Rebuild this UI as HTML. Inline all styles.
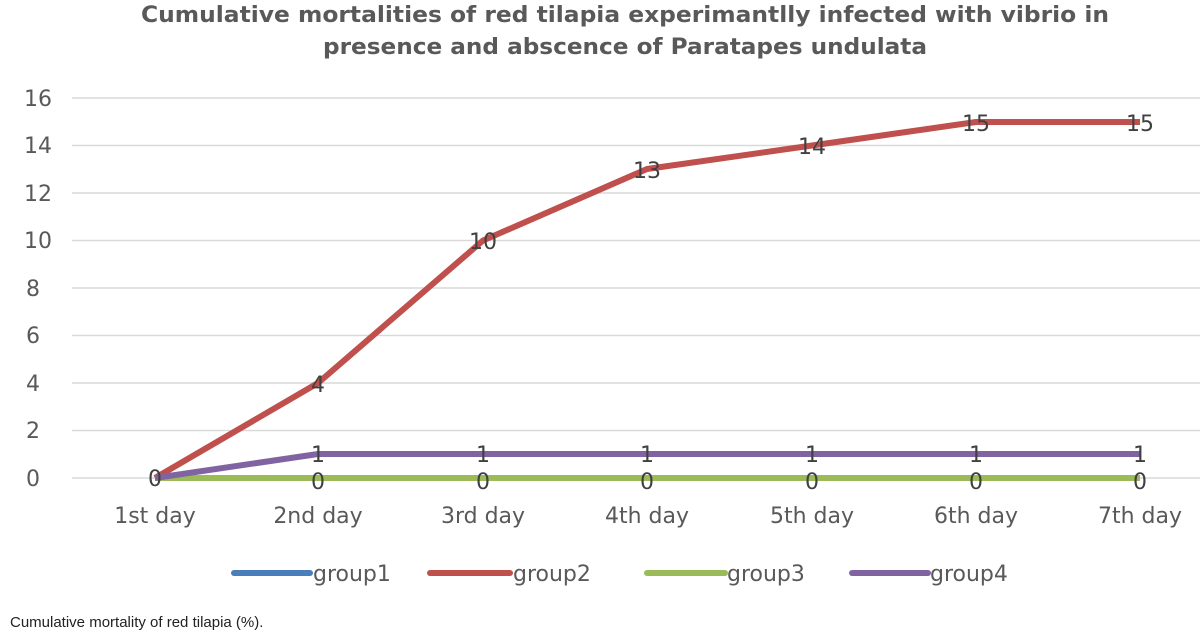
<!DOCTYPE html>
<html><head><style>
html,body{margin:0;padding:0;background:#fff;}
svg{display:block;}
</style></head><body>
<svg width="1200" height="637" xmlns="http://www.w3.org/2000/svg" font-family="'DejaVu Sans', 'Liberation Sans', sans-serif">
<rect width="1200" height="637" fill="#fff"/>
<text x="625" y="22" text-anchor="middle" font-size="22" font-weight="bold" fill="#595959" textLength="968" lengthAdjust="spacingAndGlyphs">Cumulative mortalities of red tilapia experimantlly infected with vibrio in</text>
<text x="625" y="54" text-anchor="middle" font-size="22" font-weight="bold" fill="#595959" textLength="604" lengthAdjust="spacingAndGlyphs">presence and abscence of Paratapes undulata</text>
<g stroke="#d9d9d9" stroke-width="1.5">
<line x1="72" x2="1200" y1="98" y2="98"/>
<line x1="72" x2="1200" y1="145.5" y2="145.5"/>
<line x1="72" x2="1200" y1="193" y2="193"/>
<line x1="72" x2="1200" y1="240.5" y2="240.5"/>
<line x1="72" x2="1200" y1="288" y2="288"/>
<line x1="72" x2="1200" y1="335.5" y2="335.5"/>
<line x1="72" x2="1200" y1="383" y2="383"/>
<line x1="72" x2="1200" y1="430.5" y2="430.5"/>
<line x1="72" x2="1200" y1="478" y2="478"/>
</g>
<g font-size="22" fill="#595959" text-anchor="middle">
<text x="38" y="106">16</text><text x="38" y="153">14</text><text x="38" y="201">12</text>
<text x="38" y="248">10</text><text x="33" y="296">8</text><text x="33" y="343">6</text>
<text x="33" y="391">4</text><text x="33" y="438">2</text><text x="33" y="486">0</text>
<text x="155" y="523">1st day</text><text x="318" y="523">2nd day</text><text x="483" y="523">3rd day</text>
<text x="647" y="523">4th day</text><text x="812" y="523">5th day</text><text x="976" y="523">6th day</text>
<text x="1140" y="523">7th day</text>
</g>
<polyline fill="none" stroke="#4a7ebb" stroke-width="6" points="155,478 318,478 483,478 647,478 812,478 976,478 1140,478"/>
<polyline fill="none" stroke="#9bbb59" stroke-width="6" points="155,478 318,478 483,478 647,478 812,478 976,478 1140,478"/>
<polyline fill="none" stroke="#c0504d" stroke-width="6" stroke-linejoin="round" points="155,478 318,383 483,240.5 647,169 812,145.5 976,122 1140,122"/>
<polyline fill="none" stroke="#8064a2" stroke-width="6" stroke-linejoin="round" points="155,478 318,454 483,454 647,454 812,454 976,454 1140,454"/>
<g font-size="22" fill="#404040" text-anchor="middle">
<text x="155" y="486">0</text>
<text x="318" y="489">0</text><text x="483" y="489">0</text><text x="647" y="489">0</text><text x="812" y="489">0</text><text x="976" y="489">0</text><text x="1140" y="489">0</text>
<text x="318" y="462">1</text><text x="483" y="462">1</text><text x="647" y="462">1</text><text x="812" y="462">1</text><text x="976" y="462">1</text><text x="1140" y="462">1</text>
<text x="318" y="392">4</text><text x="483" y="249">10</text><text x="647" y="178">13</text><text x="812" y="154">14</text><text x="976" y="131">15</text><text x="1140" y="131">15</text>
</g>
<g font-size="22" fill="#595959">
<line x1="234" x2="310" y1="573" y2="573" stroke="#4a7ebb" stroke-width="6" stroke-linecap="round"/><text x="313" y="581">group1</text>
<line x1="430" x2="510" y1="573" y2="573" stroke="#c0504d" stroke-width="6" stroke-linecap="round"/><text x="513" y="581">group2</text>
<line x1="647" x2="725" y1="573" y2="573" stroke="#9bbb59" stroke-width="6" stroke-linecap="round"/><text x="727" y="581">group3</text>
<line x1="852" x2="928" y1="573" y2="573" stroke="#8064a2" stroke-width="6" stroke-linecap="round"/><text x="930" y="581">group4</text>
</g>
<text x="10" y="627" font-family="'Liberation Sans', sans-serif" font-size="15" fill="#222">Cumulative mortality of red tilapia (%).</text>
</svg>
</body></html>
